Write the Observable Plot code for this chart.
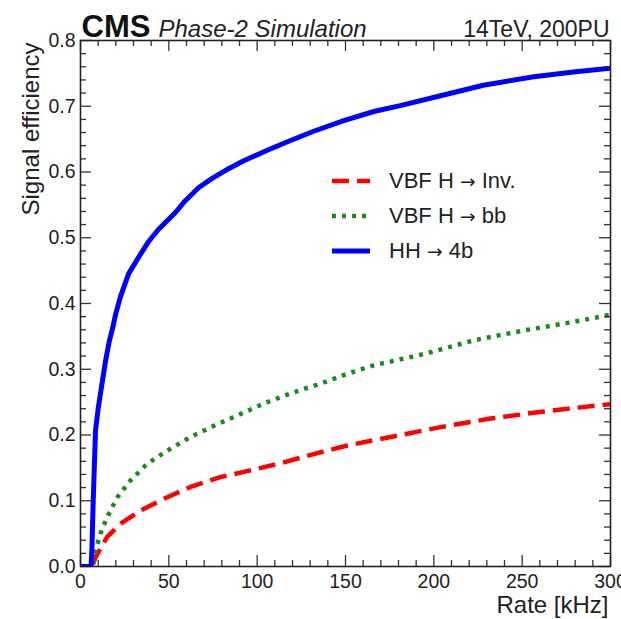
<!DOCTYPE html>
<html>
<head>
<meta charset="utf-8">
<script src="https://cdn.jsdelivr.net/npm/d3@7"></script>
<script src="https://cdn.jsdelivr.net/npm/@observablehq/plot@0.6"></script>
<style>
  html, body { margin: 0; padding: 0; background: #fff; }
  #wrap { position: relative; width: 621px; height: 619px; overflow: hidden; font-family: "Liberation Sans", Arial, Helvetica, sans-serif; }
  #legend { position: absolute; left: 328px; top: 163px; font-size: 22px; color: #222; }
  #legend .row { display: flex; align-items: center; height: 35px; }
  #legend svg { width: 46px; height: 14px; margin-right: 15px; }
  #legend .arr { font-family: "DejaVu Sans", sans-serif; font-size: 0.85em; }
</style>
</head>
<body>
<div id="wrap"><div id="legend"></div></div>
<script>
// ---- data ----
const seriesPrefix = ["VBF H", "VBF H", "HH"];
const seriesSuffix = ["Inv.", "bb", "4b"];

const rateInv = [7, 8.5, 15.1, 22.6, 34, 47.2, 62.3, 79.2, 94.3, 113.2, 132, 151, 175.5, 203.8, 232, 260, 283, 300];
const effInv  = [0.003, 0.014, 0.045, 0.065, 0.085, 0.103, 0.121, 0.136, 0.145, 0.157, 0.171, 0.184, 0.197, 0.212, 0.225, 0.235, 0.242, 0.247];

const rateBB = [7, 8.5, 11.3, 15.1, 20.8, 28.3, 37.7, 49, 62.3, 75.5, 90.6, 105.7, 120.8, 135.8, 150.9, 166, 194.3, 222.6, 251, 279, 300];
const effBB  = [0.005, 0.024, 0.05, 0.075, 0.105, 0.131, 0.156, 0.176, 0.197, 0.214, 0.232, 0.250, 0.265, 0.278, 0.293, 0.306, 0.323, 0.344, 0.359, 0.372, 0.383];

const rate4b = [0, 6, 6.5, 7.2, 8.5, 10, 11.3, 14.2, 16.4, 17.9, 20, 22.6, 27.2, 32.8, 38.5, 44.2, 53.6, 59.2, 66.8, 74.3, 83.8, 92.4, 105.7, 118.9, 132, 149, 166, 181, 203.8, 228, 256.6, 279, 300];
const eff4b  = [0, 0, 0.03, 0.10, 0.207, 0.24, 0.263, 0.313, 0.344, 0.359, 0.385, 0.41, 0.445, 0.470, 0.494, 0.513, 0.538, 0.556, 0.576, 0.590, 0.605, 0.617, 0.633, 0.648, 0.662, 0.678, 0.692, 0.701, 0.716, 0.732, 0.745, 0.752, 0.758];

const xMajor = [0, 50, 100, 150, 200, 250, 300];
const xMinor = d3.range(0, 301, 10).filter(v => v % 50 !== 0);
const yMajor = [0, 0.1, 0.2, 0.3, 0.4, 0.5, 0.6, 0.7, 0.8];
const yMinor = d3.range(0, 0.8001, 0.02).filter(v => Math.abs(v * 10 - Math.round(v * 10)) > 1e-6);

const headerLeft = "CMS";
const headerItalic = "Phase-2 Simulation";
const headerRight = "14TeV, 200PU";
const xLabel = "Rate [kHz]";
const yLabel = "Signal efficiency";

// ---- styles ----
const styles = [
  {color: "#ff0000", width: 4.5, dash: "17,8"},
  {color: "#1e8a1e", width: 4.5, dash: "4,6"},
  {color: "#0000ff", width: 5, dash: null}
];

const toRows = (rs, es) => rs.map((r, i) => ({rate: r, eff: es[i]}));
const seriesData = [toRows(rateInv, effInv), toRows(rateBB, effBB), toRows(rate4b, eff4b)];

const W = 621, H = 619, mL = 80, mR = 11, mT = 40, mB = 53;
const fw = W - mL - mR, fh = H - mT - mB;
const major = 11, minor = 6;
const font = "Liberation Sans, Arial, Helvetica, sans-serif";
const ink = "#222";

const marks = [];
seriesData.forEach((data, i) => {
  marks.push(Plot.line(data, {
    x: "rate", y: "eff", stroke: styles[i].color, strokeWidth: styles[i].width,
    strokeDasharray: styles[i].dash, strokeLinecap: "butt", strokeLinejoin: "round", clip: true
  }));
});
const tk = {stroke: "#333", strokeWidth: 1.3};
marks.push(
  Plot.ruleX(xMajor, {x: d => d, insetTop: fh - major, ...tk}),
  Plot.ruleX(xMinor, {x: d => d, insetTop: fh - minor, ...tk}),
  Plot.ruleX(xMajor, {x: d => d, insetBottom: fh - major, ...tk}),
  Plot.ruleX(xMinor, {x: d => d, insetBottom: fh - minor, ...tk}),
  Plot.ruleY(yMajor, {y: d => d, insetRight: fw - major, ...tk}),
  Plot.ruleY(yMinor, {y: d => d, insetRight: fw - minor, ...tk}),
  Plot.ruleY(yMajor, {y: d => d, insetLeft: fw - major, ...tk}),
  Plot.ruleY(yMinor, {y: d => d, insetLeft: fw - minor, ...tk}),
  Plot.frame({stroke: "#222", strokeWidth: 1.6}),
  Plot.axisX(xMajor, {tickSize: 0, tickPadding: 8, fontSize: 19.5, fill: ink, label: null}),
  Plot.axisY(yMajor, {tickSize: 0, tickPadding: 5, fontSize: 19.5, fill: ink, label: null, tickFormat: d3.format(".1f")}),
  Plot.text([xLabel], {frameAnchor: "bottom-right", textAnchor: "end", lineAnchor: "bottom", dy: 46, dx: -2, fontSize: 24, fill: ink}),
  Plot.text([yLabel], {frameAnchor: "top-left", textAnchor: "end", lineAnchor: "bottom", rotate: -90, dx: -42, dy: 2, fontSize: 24, fill: ink}),
  Plot.text([headerLeft], {frameAnchor: "top-left", textAnchor: "start", lineAnchor: "bottom", dx: 1, dy: -4, fontSize: 31, fontWeight: "bold", fill: "#111"}),
  Plot.text([headerItalic], {frameAnchor: "top-left", textAnchor: "start", lineAnchor: "bottom", dx: 78, dy: -4, fontSize: 24, fontStyle: "italic", fill: ink}),
  Plot.text([headerRight], {frameAnchor: "top-right", textAnchor: "end", lineAnchor: "bottom", dx: -1, dy: -4, fontSize: 23, fill: ink})
);

const chart = Plot.plot({
  width: W, height: H,
  marginLeft: mL, marginRight: mR, marginTop: mT, marginBottom: mB,
  style: {fontFamily: font, background: "#fff", overflow: "visible"},
  x: {domain: [0, 300], axis: null},
  y: {domain: [0, 0.8], axis: null},
  marks
});
document.getElementById("wrap").prepend(chart);

const legend = document.getElementById("legend");
seriesPrefix.forEach((pre, i) => {
  const row = document.createElement("div");
  row.className = "row";
  const s = styles[i];
  row.innerHTML = `<svg viewBox="0 0 46 14"><line x1="4" x2="42" y1="7" y2="7" stroke="${s.color}" stroke-width="${s.width}" ${s.dash ? `stroke-dasharray="${s.dash}"` : ""}/></svg><span>${pre} <span class="arr">\u2192</span> ${seriesSuffix[i]}</span>`;
  legend.appendChild(row);
});
</script>
</body>
</html>
